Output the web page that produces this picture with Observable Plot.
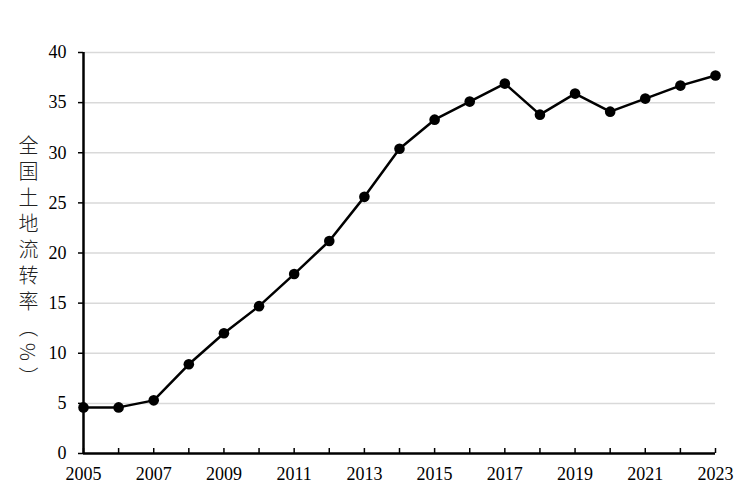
<!DOCTYPE html>
<html><head><meta charset="utf-8">
<script src="https://cdn.jsdelivr.net/npm/d3@7"></script>
<script src="https://cdn.jsdelivr.net/npm/@observablehq/plot@0.6"></script>
<style>
body{margin:0;background:#fff;}
#wrap{position:relative;width:750px;height:492px;}
#ylab{position:absolute;left:18px;top:135px;writing-mode:vertical-rl;font-family:"Noto Sans CJK SC",sans-serif;font-size:20px;letter-spacing:6px;color:#222;line-height:1;font-weight:300;}
</style></head>
<body><div id="wrap"><div id="ylab">全国土地流转率（%）</div></div>
<script>
const years = [2005,2006,2007,2008,2009,2010,2011,2012,2013,2014,2015,2016,2017,2018,2019,2020,2021,2022,2023];
const rates = [4.6,4.6,5.3,8.9,12.0,14.7,17.9,21.2,25.6,30.4,33.3,35.1,36.9,33.8,35.9,34.1,35.4,36.7,37.7];
const yTicks = [0,5,10,15,20,25,30,35,40];
const xLabelTicks = [2005,2007,2009,2011,2013,2015,2017,2019,2021,2023];
const yLabel = "全国土地流转率（%）";

const data = years.map((y,i)=>({year:y, rate:rates[i]}));
const font = "'Liberation Serif','Times New Roman',serif";

const chart = Plot.plot({
  width:750, height:492,
  marginLeft:83, marginRight:35, marginTop:52, marginBottom:39,
  style:{fontFamily:font, fontSize:"18px", color:"#000", background:"#fff"},
  x:{domain:[2005,2023]},
  y:{domain:[0,40]},
  marks:[
    Plot.ruleY(yTicks.filter(d=>d>0), {y:d=>d, x1:years[0], x2:years[years.length-1], stroke:"#d9d9d9", strokeWidth:1.5}),
    Plot.axisY({ticks:yTicks, tickSize:5, tickPadding:12, tickFormat:d=>d, label:null, fontSize:18, stroke:"#000", strokeWidth:1.5}),
    Plot.axisX({ticks:years, tickSize:-5, tickFormat:()=> "", label:null, stroke:"#000", strokeWidth:1.5}),
    Plot.axisX({ticks:xLabelTicks, tickSize:0, tickPadding:14, tickFormat:d=>String(d), label:null, fontSize:18}),
    Plot.ruleX([years[0]], {x:d=>d, stroke:"#000", strokeWidth:2.5}),
    Plot.ruleY([0], {y:d=>d, stroke:"#000", strokeWidth:2.5}),
    Plot.line(data, {x:"year", y:"rate", stroke:"#000", strokeWidth:2.5}),
    Plot.dot(data, {x:"year", y:"rate", r:5.3, fill:"#000", stroke:"none"})
  ]
});
document.getElementById("wrap").prepend(chart);
</script></body></html>
